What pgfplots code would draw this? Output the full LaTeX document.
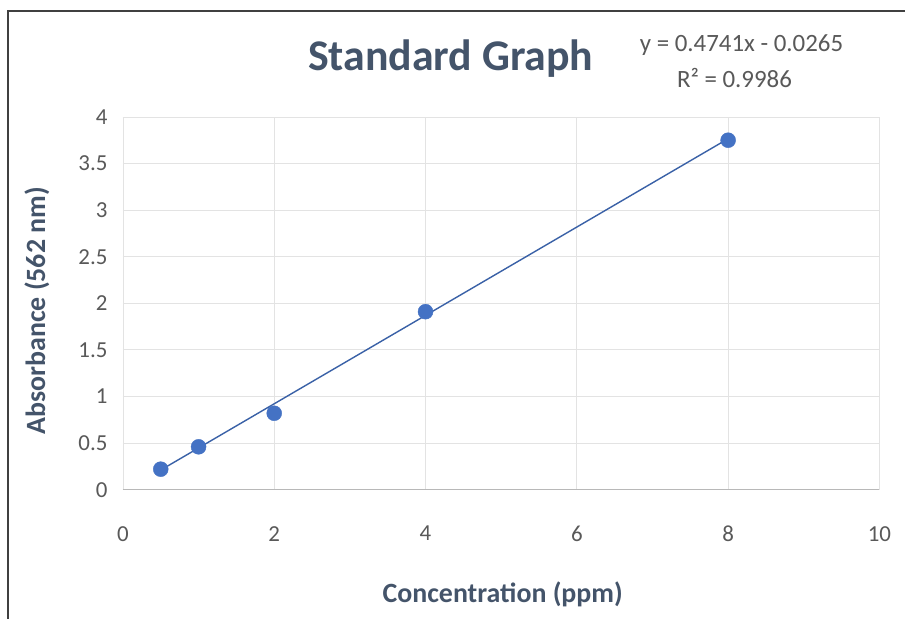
\documentclass[border=0pt]{standalone}
\usepackage{pgfplots}
\pgfplotsset{compat=1.18}
\usepackage{fontspec}
\setmainfont{Carlito}
\definecolor{ptblue}{HTML}{4472C4}
\definecolor{ttl}{HTML}{44546A}
\definecolor{tick}{HTML}{595959}
\definecolor{grd}{HTML}{E3E3E3}
\begin{document}
\begin{tikzpicture}[x=1bp,y=1bp]
\path[fill=white] (0,0) rectangle (906,619);
\draw[line width=1.2bp, black!75] (8,0) -- (8,608) -- (906,608);
\begin{axis}[
  at={(123bp,129bp)}, anchor=south west,
  scale only axis, width=757bp, height=373bp,
  xmin=0, xmax=10, ymin=0, ymax=4,
  xtick={0,2,...,10}, ytick={0,0.5,...,4},
  grid=major, major grid style={grd, line width=0.8bp},
  axis line style={draw=none},
  axis x line*=bottom, axis y line*=left,
  tick style={draw=none},
  /pgf/number format/assume math mode=true,
  ticklabel style={font=\fontsize{23}{25}\selectfont, text=tick},
  xticklabel style={yshift=-33bp},
  yticklabel style={xshift=-12bp},
  clip=false,
]
\draw[color=black!28, line width=1.2bp] (axis cs:0,0) -- (axis cs:10,0);
\addplot[ptblue!85!black, line width=1.4bp] coordinates {(0.5,0.2106) (8,3.7663)};
\addplot[only marks, mark=*, mark size=7.5bp, mark options={fill=ptblue, draw=ptblue}]
  coordinates {(0.5,0.22) (1,0.46) (2,0.82) (4,1.91) (8,3.75)};
\end{axis}
\node[text=ttl, font=\fontsize{44}{48}\selectfont\bfseries] at (451,560) {Standard Graph};
\node[text=tick, font=\fontsize{25}{28}\selectfont] at (742,574) {y = 0.4741x - 0.0265};
\node[text=tick, font=\fontsize{25}{28}\selectfont] at (735,541) {R² = 0.9986};
\node[text=ttl, font=\fontsize{28}{32}\selectfont\bfseries] at (503,24) {Concentration (ppm)};
\node[text=ttl, font=\fontsize{28}{32}\selectfont\bfseries, rotate=90] at (37,308) {Absorbance (562 nm)};
\end{tikzpicture}
\end{document}
